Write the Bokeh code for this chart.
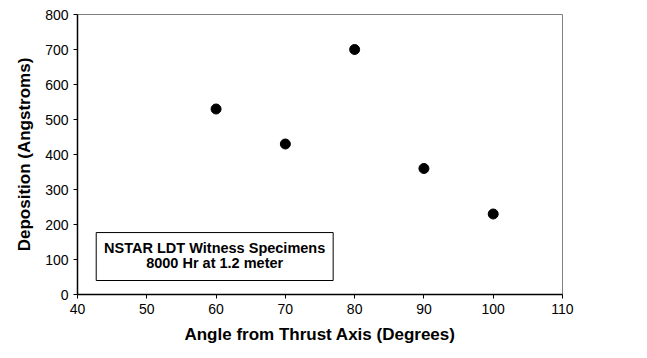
from bokeh.plotting import figure
from bokeh.models import Range1d, FixedTicker, BoxAnnotation, Label, ColumnDataSource
from bokeh.embed import file_html
from bokeh.resources import INLINE

angles = [60, 70, 80, 90, 100]
deposition = [530, 430, 700, 360, 230]
x_ticks = [40, 50, 60, 70, 80, 90, 100, 110]
y_ticks = [0, 100, 200, 300, 400, 500, 600, 700, 800]

FONT = "Liberation Sans"

p = figure(width=647, height=358, output_backend="svg", toolbar_location=None,
           x_range=Range1d(40, 110), y_range=Range1d(0, 800),
           min_border_left=77, min_border_right=85, min_border_top=14, min_border_bottom=64)

p.grid.visible = False
p.outline_line_color = "#808080"
p.outline_line_width = 1
p.background_fill_color = "white"
p.border_fill_color = "white"

src = ColumnDataSource(dict(x=angles, y=deposition))
p.scatter("x", "y", source=src, size=10, color="black")

for ax, ticks in ((p.xaxis, x_ticks), (p.yaxis, y_ticks)):
    ax.ticker = FixedTicker(ticks=ticks)
    ax.axis_line_color = "black"
    ax.axis_line_width = 1.5
    ax.major_tick_line_color = "black"
    ax.major_tick_out = 4
    ax.major_tick_in = 0
    ax.minor_tick_line_color = None
    ax.major_label_text_font = FONT
    ax.major_label_text_font_size = "14px"
    ax.major_label_text_color = "black"
    ax.axis_label_text_font = FONT
    ax.axis_label_text_font_size = "17px"
    ax.axis_label_text_font_style = "bold"
    ax.axis_label_text_color = "black"

p.xaxis.axis_label = "Angle from Thrust Axis (Degrees)"
p.yaxis.axis_label = "Deposition (Angstroms)"
p.xaxis.axis_label_standoff = 8
p.yaxis.axis_label_standoff = 8

box = BoxAnnotation(left=42.7, right=76.9, bottom=40, top=177,
                    fill_color="white", fill_alpha=1, line_color="black",
                    line_alpha=1, line_width=1)
p.add_layout(box)

p.add_layout(Label(x=59.8, y=134, text="NSTAR LDT Witness Specimens", text_align="center",
                   text_baseline="middle", text_font=FONT, text_font_size="14.5px",
                   text_font_style="bold", text_color="black"))
p.add_layout(Label(x=59.8, y=89, text="8000 Hr at 1.2 meter", text_align="center",
                   text_baseline="middle", text_font=FONT, text_font_size="14.5px",
                   text_font_style="bold", text_color="black"))

open("out.html", "w").write(file_html(p, INLINE))
